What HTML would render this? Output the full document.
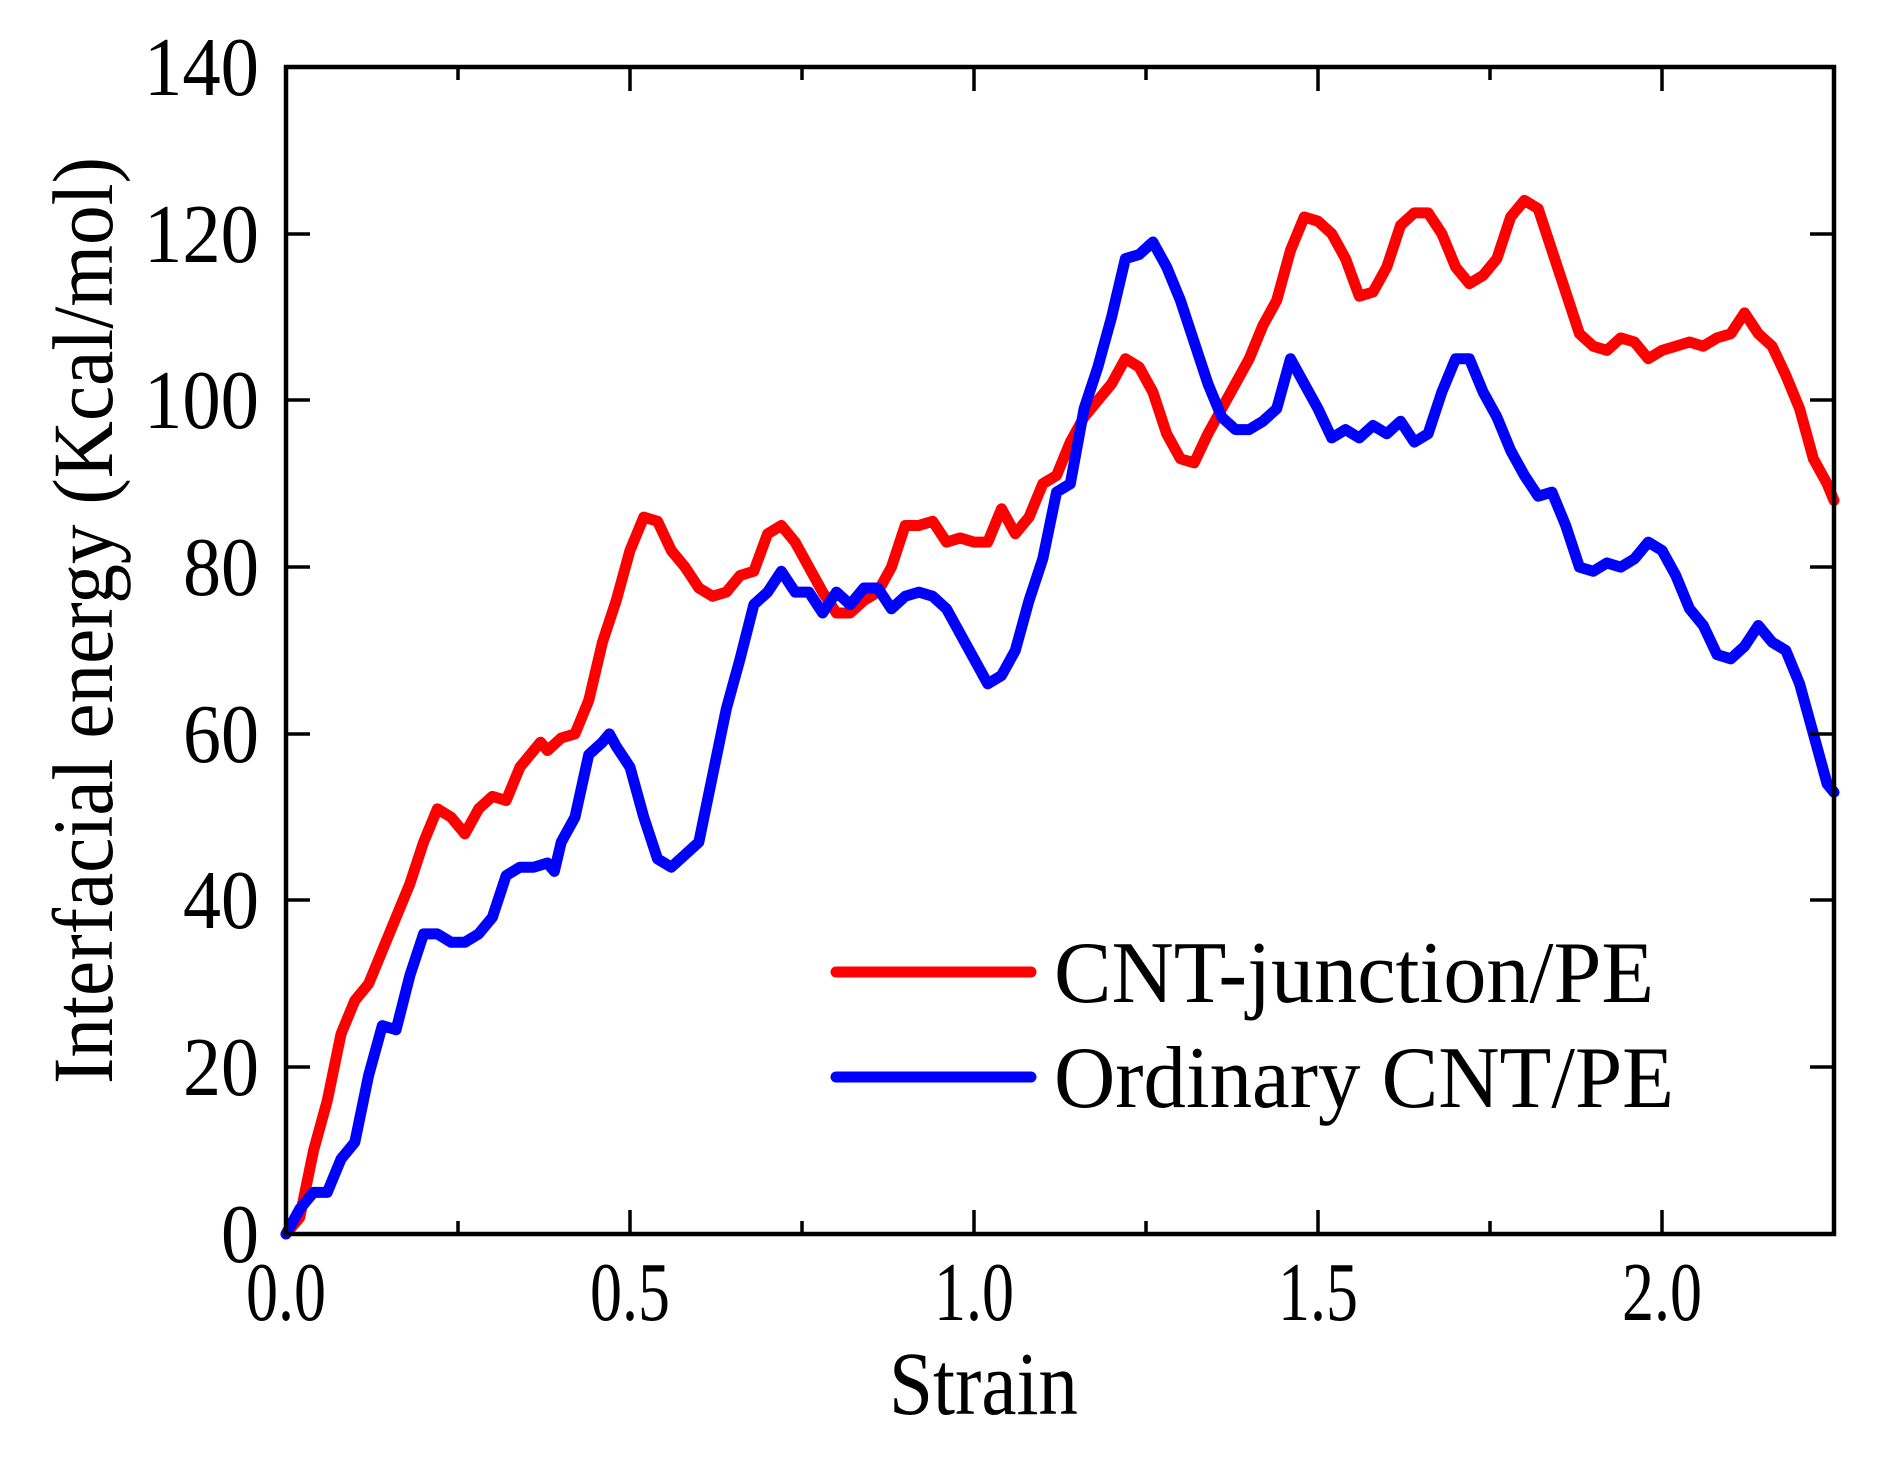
<!DOCTYPE html>
<html><head><meta charset="utf-8"><style>html,body{margin:0;padding:0;background:#fff}svg{display:block}</style></head>
<body>
<svg width="1888" height="1462" viewBox="0 0 1888 1462" xmlns="http://www.w3.org/2000/svg" font-family="'Liberation Serif', serif">
<rect width="1888" height="1462" fill="#fff"/>
<g transform="translate(286,1234) scale(688,-8.336)" fill="none" stroke-linejoin="round" stroke-linecap="round">
<polyline vector-effect="non-scaling-stroke" stroke="#ff0000" stroke-width="11" points="0,0 0.02,2 0.04,10 0.06,16 0.08,24 0.10,28 0.12,30 0.15,36 0.18,42 0.20,47 0.22,51 0.24,50 0.26,48 0.28,51 0.30,52.5 0.32,52 0.34,56 0.37,59 0.38,58 0.40,59.5 0.42,60 0.44,64 0.46,71 0.48,76 0.50,82 0.52,86 0.54,85.5 0.56,82 0.58,80 0.60,77.5 0.62,76.5 0.64,77 0.66,79 0.68,79.5 0.70,84 0.72,85 0.74,83 0.76,80 0.78,77 0.80,74.5 0.82,74.5 0.84,76 0.86,77 0.88,80 0.90,85 0.92,85 0.94,85.5 0.96,83 0.98,83.5 1.00,83 1.02,83 1.04,87 1.06,84 1.08,86 1.10,90 1.12,91 1.14,95 1.16,98 1.18,100 1.20,102 1.22,105 1.24,104 1.26,101 1.28,96 1.30,93 1.32,92.5 1.34,96 1.36,99 1.38,102 1.40,105 1.42,109 1.44,112 1.46,118 1.48,122 1.50,121.5 1.52,120 1.54,117 1.56,112.5 1.58,113 1.60,116 1.62,121 1.64,122.5 1.66,122.5 1.68,120 1.70,116 1.72,114 1.74,115 1.76,117 1.78,122 1.80,124 1.82,123 1.84,118 1.86,113 1.88,108 1.90,106.5 1.92,106 1.94,107.5 1.96,107 1.98,105 2.00,106 2.02,106.5 2.04,107 2.06,106.5 2.08,107.5 2.10,108 2.12,110.5 2.14,108 2.16,106.5 2.18,103 2.20,99 2.22,93 2.24,90 2.25,88"/>
<polyline vector-effect="non-scaling-stroke" stroke="#0000ff" stroke-width="11" points="0,0 0.02,3 0.04,5 0.06,5 0.08,9 0.10,11 0.12,19 0.14,25 0.16,24.5 0.18,31 0.20,36 0.22,36 0.24,35 0.26,35 0.28,36 0.30,38 0.32,43 0.34,44 0.36,44 0.38,44.5 0.39,43.5 0.40,47 0.42,50 0.44,57.5 0.46,59 0.47,60 0.48,58.5 0.50,56 0.52,50 0.54,45 0.56,44 0.58,45.5 0.60,47 0.62,55 0.64,63 0.66,69 0.68,75.5 0.70,77 0.72,79.5 0.74,77 0.76,77 0.78,74.5 0.80,77 0.82,75.5 0.84,77.5 0.86,77.5 0.88,75 0.90,76.5 0.92,77 0.94,76.5 0.96,75 0.98,72 1.00,69 1.02,66 1.04,67 1.06,70 1.08,76 1.10,81 1.12,89 1.14,90 1.16,99 1.18,104 1.20,110 1.22,117 1.24,117.5 1.26,119 1.28,116 1.30,112 1.32,107 1.34,102 1.36,98 1.38,96.5 1.40,96.5 1.42,97.5 1.44,99 1.46,105 1.48,102 1.50,99 1.52,95.5 1.54,96.5 1.56,95.5 1.58,97 1.60,96 1.62,97.5 1.64,95 1.66,96 1.68,101 1.70,105 1.72,105 1.74,101 1.76,98 1.78,94 1.80,91 1.82,88.5 1.84,89 1.86,85 1.88,80 1.90,79.5 1.92,80.5 1.94,80 1.96,81 1.98,83 2.00,82 2.02,79 2.04,75 2.06,73 2.08,69.5 2.10,69 2.12,70.5 2.14,73 2.16,71 2.18,70 2.20,66 2.22,60 2.24,54 2.25,53"/>
</g>
<rect x="286" y="67" width="1548" height="1167" fill="none" stroke="#000" stroke-width="4.5"/>
<g stroke="#000" stroke-width="3.5">
<path d="M286,1234v-24M630,1234v-24M974,1234v-24M1318,1234v-24M1662,1234v-24 M458,1234v-13M802,1234v-13M1146,1234v-13M1490,1234v-13"/>
<path d="M630,67v24M974,67v24M1318,67v24M1662,67v24 M458,67v13M802,67v13M1146,67v13M1490,67v13"/>
<path d="M286,1067h24M286,900h24M286,734h24M286,567h24M286,400h24M286,234h24 M1834,1067h-24M1834,900h-24M1834,734h-24M1834,567h-24M1834,400h-24M1834,234h-24"/>
</g>
<g font-size="84" text-anchor="end" fill="#000" lengthAdjust="spacingAndGlyphs">
<text x="259" y="1262" textLength="38" lengthAdjust="spacingAndGlyphs">0</text>
<text x="259" y="1095" textLength="76" lengthAdjust="spacingAndGlyphs">20</text>
<text x="259" y="928" textLength="76" lengthAdjust="spacingAndGlyphs">40</text>
<text x="259" y="762" textLength="76" lengthAdjust="spacingAndGlyphs">60</text>
<text x="259" y="595" textLength="76" lengthAdjust="spacingAndGlyphs">80</text>
<text x="259" y="428" textLength="115" lengthAdjust="spacingAndGlyphs">100</text>
<text x="259" y="262" textLength="115" lengthAdjust="spacingAndGlyphs">120</text>
<text x="259" y="95" textLength="115" lengthAdjust="spacingAndGlyphs">140</text>
</g>
<g font-size="84" text-anchor="middle" fill="#000">
<text x="286" y="1320" textLength="80" lengthAdjust="spacingAndGlyphs">0.0</text>
<text x="630" y="1320" textLength="80" lengthAdjust="spacingAndGlyphs">0.5</text>
<text x="974" y="1320" textLength="80" lengthAdjust="spacingAndGlyphs">1.0</text>
<text x="1318" y="1320" textLength="80" lengthAdjust="spacingAndGlyphs">1.5</text>
<text x="1662" y="1320" textLength="80" lengthAdjust="spacingAndGlyphs">2.0</text>
</g>
<text x="889" y="1414" font-size="90" textLength="189" lengthAdjust="spacingAndGlyphs">Strain</text>
<text transform="translate(112,1084) rotate(-90)" font-size="86" textLength="927" lengthAdjust="spacingAndGlyphs">Interfacial energy (Kcal/mol)</text>
<line x1="836" y1="972" x2="1031" y2="972" stroke="#ff0000" stroke-width="11" stroke-linecap="round"/>
<line x1="836" y1="1077" x2="1031" y2="1077" stroke="#0000ff" stroke-width="11" stroke-linecap="round"/>
<text x="1054" y="1002" font-size="88" textLength="600" lengthAdjust="spacingAndGlyphs">CNT-junction/PE</text>
<text x="1054" y="1107" font-size="88" textLength="620" lengthAdjust="spacingAndGlyphs">Ordinary CNT/PE</text>
</svg>
</body></html>
